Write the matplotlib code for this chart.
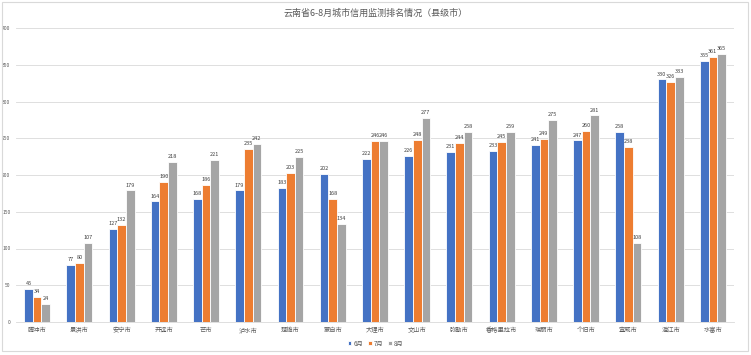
import numpy as np
import matplotlib.pyplot as plt

plt.rcParams['font.family'] = ['Noto Sans CJK SC', 'DejaVu Sans']

cities = ['腾冲市', '景洪市', '安宁市', '开远市', '芒市', '泸水市', '楚雄市', '蒙自市', '大理市',
          '文山市', '弥勒市', '香格里拉市', '瑞丽市', '个旧市', '宣威市', '澄江市', '水富市']
jun = [45, 77, 127, 164, 168, 179, 183, 202, 222, 226, 231, 233, 241, 247, 258, 330, 355]
jul = [34, 80, 132, 190, 186, 235, 203, 168, 246, 248, 244, 245, 249, 260, 238, 326, 361]
aug = [24, 107, 179, 218, 221, 242, 225, 134, 246, 277, 258, 259, 275, 281, 108, 333, 365]
months = ['6月', '7月', '8月']
colors = ['#4472C4', '#ED7D31', '#A5A5A5']
yticks = [0, 50, 100, 150, 200, 250, 300, 350, 400]

fig = plt.figure(figsize=(7.51, 3.55), dpi=100)
ax = fig.add_axes([0.0213, 0.093, 0.956, 0.828])

x = np.arange(len(cities))
w = 0.205
for i, (vals, m, c) in enumerate(zip([jun, jul, aug], months, colors)):
    pos = x + (i - 1) * w
    ax.bar(pos, vals, width=w, color=c, edgecolor='white', linewidth=0.6, label=m, zorder=3)
    for p, v in zip(pos, vals):
        ax.text(p, v + 4, str(v), ha='center', va='bottom', fontsize=4, color='#404040')

ax.set_xlim(-0.5, len(cities) - 0.5)
ax.set_ylim(0, 400)
ax.set_yticks(yticks)
ax.set_xticks(x)
ax.set_xticklabels(cities)
ax.tick_params(axis='x', length=0, labelsize=4.5, labelcolor='#595959', pad=3)
ax.tick_params(axis='y', length=0, labelsize=3.6, labelcolor='#595959', pad=4)
ax.grid(axis='y', color='#D9D9D9', linewidth=0.6, zorder=0)
for s in ['top', 'right', 'left']:
    ax.spines[s].set_visible(False)
ax.spines['bottom'].set_color('#D9D9D9')
ax.spines['bottom'].set_linewidth(0.6)

fig.suptitle('云南省6-8月城市信用监测排名情况（县级市）', y=0.975, fontsize=6.5, color='#595959')
fig.legend(loc='lower center', ncol=3, bbox_to_anchor=(0.5, 0.005), frameon=False,
           fontsize=4.5, handlelength=0.6, handleheight=0.6, columnspacing=0.8, handletextpad=0.3,
           labelcolor='#595959')

frame = plt.Rectangle((0.003, 0.01), 0.993, 0.985, transform=fig.transFigure, fill=False,
                      edgecolor='#D9D9D9', linewidth=0.8)
fig.patches.append(frame)

fig.savefig('out.png', dpi=100)
